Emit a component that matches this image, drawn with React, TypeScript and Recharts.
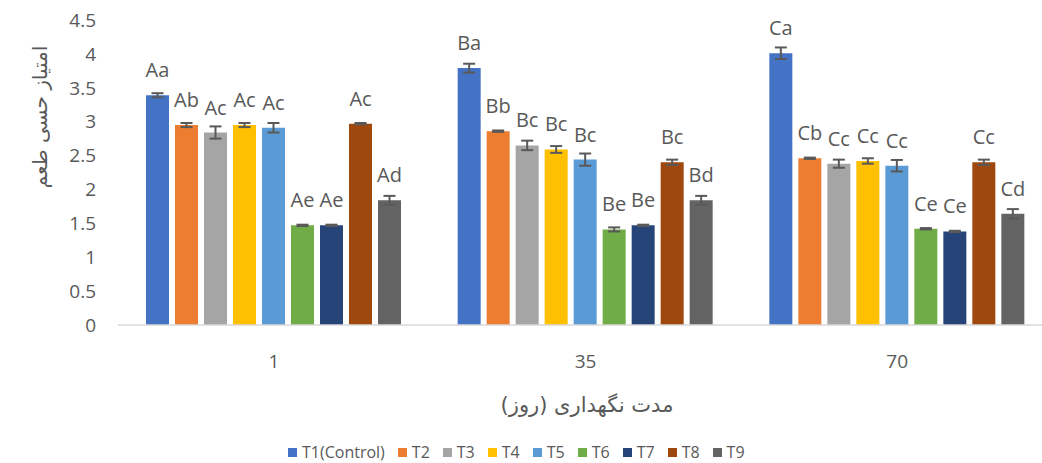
import { BarChart, Bar, XAxis, YAxis, ErrorBar, LabelList } from "recharts";

const days = ["1", "35", "70"];
const seriesNames = ["T1(Control)", "T2", "T3", "T4", "T5", "T6", "T7", "T8", "T9"];
const seriesColors = ["#4472C4", "#ED7D31", "#A5A5A5", "#FFC000", "#5B9BD5", "#70AD47", "#264478", "#9E480E", "#636363"];

const t1 = [3.39, 3.79, 4.01];
const t2 = [2.95, 2.86, 2.46];
const t3 = [2.84, 2.65, 2.38];
const t4 = [2.95, 2.59, 2.42];
const t5 = [2.91, 2.44, 2.35];
const t6 = [1.47, 1.41, 1.42];
const t7 = [1.47, 1.47, 1.38];
const t8 = [2.97, 2.4, 2.4];
const t9 = [1.84, 1.84, 1.64];

const t1Err = [0.03, 0.065, 0.085];
const t2Err = [0.03, 0.01, 0.01];
const t3Err = [0.09, 0.07, 0.06];
const t4Err = [0.03, 0.05, 0.04];
const t5Err = [0.07, 0.09, 0.085];
const t6Err = [0.01, 0.03, 0.01];
const t7Err = [0.01, 0.01, 0.01];
const t8Err = [0.01, 0.04, 0.04];
const t9Err = [0.065, 0.065, 0.07];

const t1Letters = ["Aa", "Ba", "Ca"];
const t2Letters = ["Ab", "Bb", "Cb"];
const t3Letters = ["Ac", "Bc", "Cc"];
const t4Letters = ["Ac", "Bc", "Cc"];
const t5Letters = ["Ac", "Bc", "Cc"];
const t6Letters = ["Ae", "Be", "Ce"];
const t7Letters = ["Ae", "Be", "Ce"];
const t8Letters = ["Ac", "Bc", "Cc"];
const t9Letters = ["Ad", "Bd", "Cd"];

const yTicks = [0, 0.5, 1, 1.5, 2, 2.5, 3, 3.5, 4, 4.5];

const values = [t1, t2, t3, t4, t5, t6, t7, t8, t9];
const errors = [t1Err, t2Err, t3Err, t4Err, t5Err, t6Err, t7Err, t8Err, t9Err];
const letters = [t1Letters, t2Letters, t3Letters, t4Letters, t5Letters, t6Letters, t7Letters, t8Letters, t9Letters];

const data = days.map((day, i) => {
  const row: Record<string, string | number> = { day };
  values.forEach((s, k) => {
    row[`v${k}`] = s[i];
    row[`e${k}`] = errors[k][i];
    row[`l${k}`] = letters[k][i];
  });
  return row;
});

const gray = "#595959";
const latin = "'Open Sans', 'Liberation Sans', sans-serif";

export default function App() {
  return (
    <div style={{ position: "absolute", left: 0, top: 0, width: 1042, height: 463, overflow: "hidden", background: "#fff" }}>
      <BarChart
        width={1060}
        height={463}
        data={data}
        margin={{ top: 20, right: 7, left: 0, bottom: 108 }}
        barSize={23}
        barGap={6}
      >
        <XAxis
          dataKey="day"
          height={30}
          axisLine={{ stroke: "#D9D9D9", strokeWidth: 1.5 }}
          tickLine={false}
          tickSize={0}
          tickMargin={30}
          tick={{ fill: gray, fontSize: 19, fontFamily: latin }}
        />
        <YAxis
          width={118}
          domain={[0, 4.5]}
          ticks={yTicks}
          axisLine={false}
          tickLine={false}
          tickSize={0}
          tickMargin={22}
          tick={{ fill: gray, fontSize: 19, fontFamily: latin }}
        />
        {seriesNames.map((name, k) => (
          <Bar key={name} dataKey={`v${k}`} name={name} fill={seriesColors[k]} isAnimationActive={false}>
            <ErrorBar dataKey={`e${k}`} width={6} strokeWidth={2} stroke={gray} isAnimationActive={false} />
            <LabelList dataKey={`l${k}`} position="top" offset={18} fill={gray} fontSize={20} fontFamily={latin} />
          </Bar>
        ))}
      </BarChart>

      <div
        style={{
          position: "absolute",
          left: 40,
          top: 117,
          transform: "translate(-50%, -50%) rotate(-90deg)",
          whiteSpace: "nowrap",
          fontFamily: "'DejaVu Sans', sans-serif",
          fontSize: 20,
          color: gray,
        }}
      >
        امتیاز حسی طعم
      </div>

      <div
        style={{
          position: "absolute",
          left: 587,
          top: 405,
          transform: "translate(-50%, -50%)",
          whiteSpace: "nowrap",
          fontFamily: "'DejaVu Sans', sans-serif",
          fontSize: 21,
          color: gray,
        }}
      >
        مدت نگهداری (روز)
      </div>

      <div
        style={{
          position: "absolute",
          left: 288,
          top: 452,
          transform: "translateY(-50%)",
          display: "flex",
          alignItems: "center",
          fontFamily: latin,
          fontSize: 16,
          color: gray,
          whiteSpace: "nowrap",
        }}
      >
        {seriesNames.map((name, k) => (
          <div key={name} style={{ display: "flex", alignItems: "center", marginRight: 13 }}>
            <span style={{ width: 9, height: 9, background: seriesColors[k], marginRight: 5, display: "inline-block" }} />
            <span>{name}</span>
          </div>
        ))}
      </div>
    </div>
  );
}
